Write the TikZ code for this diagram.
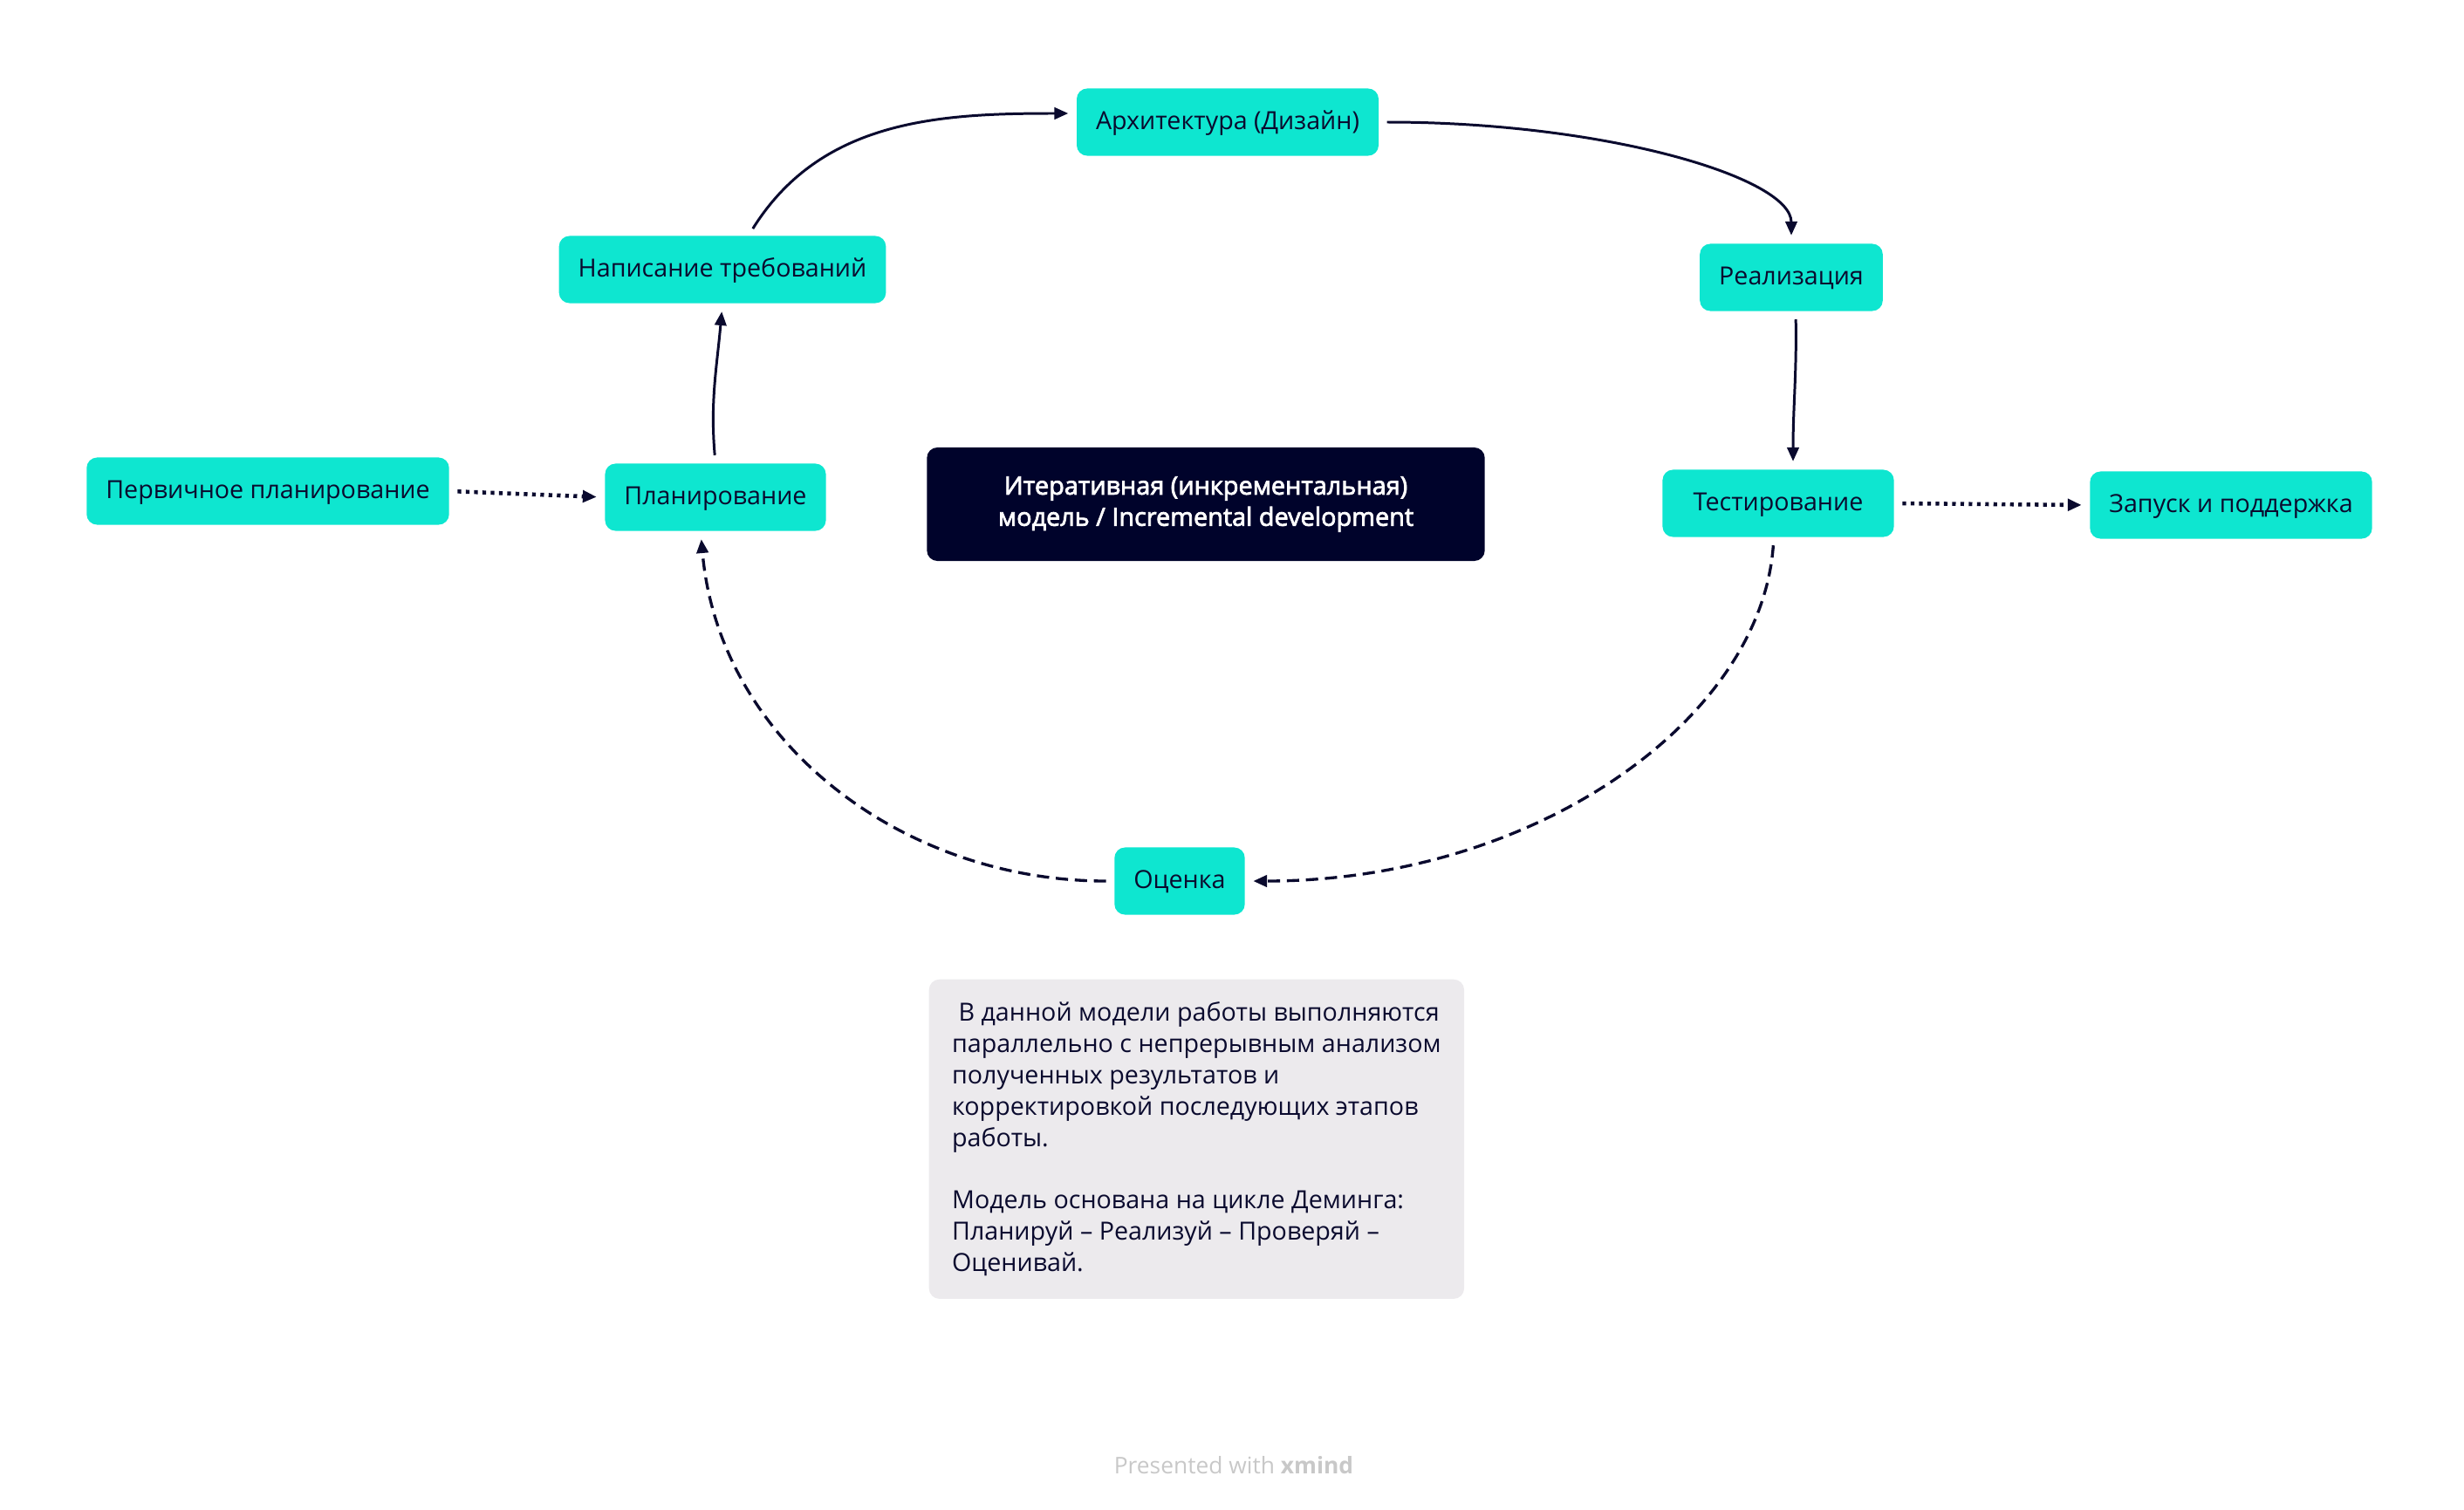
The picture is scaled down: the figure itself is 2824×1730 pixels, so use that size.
\documentclass[tikz,border=0pt]{standalone}
\usepackage{fontspec}
\setmainfont{Open Sans}
\newfontfamily\semibold{Open Sans}[FakeBold=2.6]
\usetikzlibrary{arrows.meta}
\definecolor{aqua}{HTML}{0EE6D0}
\definecolor{ink}{HTML}{0A0A2E}
\definecolor{navy}{HTML}{00032B}
\definecolor{memofill}{HTML}{ECEAED}
\definecolor{credit}{HTML}{C8C8C8}
\begin{document}
\begin{tikzpicture}[x=0.01cm,y=0.01cm,
  phase/.style={fill=aqua,rounded corners=0.12cm,minimum height=0.77cm,inner xsep=0.22cm,text height=6pt,text depth=1pt,text=ink,font=\fontsize{8.15}{10.2}\selectfont},
  core/.style={fill=navy,rounded corners=0.12cm,minimum width=6.39cm,minimum height=1.3cm,align=center,text=white,font=\fontsize{8.2}{10.2}\semibold},
  memo/.style={fill=memofill,rounded corners=0.12cm,anchor=north west,minimum width=6.13cm,minimum height=3.66cm,inner xsep=0.23cm,align=left,text=ink,font=\fontsize{8.15}{10.2}\selectfont},
  flow/.style={draw=ink,line width=0.85pt,-{Triangle[length=4.5pt,width=3.8pt]},shorten <=0.09cm,shorten >=0.09cm},
  loopback/.style={flow,line width=0.95pt,dash pattern=on 4pt off 2.2pt},
  aside/.style={flow,line width=1.3pt,dash pattern=on 1.2pt off 1.5pt}]

  \useasboundingbox (0,0) rectangle (2824,-1730);

  % etapy cikla
  \node[phase] (arch)   at (1407,-140)  {Архитектура (Дизайн)};
  \node[phase] (req)    at (828,-309)   {Написание требований};
  \node[phase] (impl)   at (2053,-318)  {Реализация};
  \node[phase] (plan0)  at (307,-563)   {Первичное планирование};
  \node[phase] (plan)   at (820,-570)   {Планирование};
  \node[phase,minimum width=2.65cm] (test) at (2038,-577) {Тестирование};
  \node[phase] (launch) at (2557,-579)  {Запуск и поддержка};
  \node[phase] (eval)   at (1352,-1010) {Оценка};

  \node[core] (title) at (1382,-578) {Итеративная (инкрементальная)\\модель / Incremental development};

  \node[memo] (note) at (1064,-1122) {\ В данной модели работы выполняются\\
    параллельно с непрерывным анализом\\
    полученных результатов и\\
    корректировкой последующих этапов\\
    работы.\\[10.2pt]
    Модель основана на цикле Деминга:\\
    Планируй – Реализуй – Проверяй –\\
    Оценивай.};

  \node[text=credit,font=\fontsize{7.5}{9}\selectfont] (mark) at (1414,-1680) {Presented with \textbf{xmind}};

  % strelki
  \draw[flow] (plan.north) to[out=95,in=-95] (req.south);
  \draw[flow] ([xshift=0.3cm]req.north) to[out=58,in=180] ([yshift=0.1cm]arch.west);
  \draw[flow] (arch.east) .. controls +(2.6cm,0) and +(0,0.75cm) .. (impl.north);
  \draw[flow] ([xshift=0.05cm]impl.south) to[out=-89,in=90] ([xshift=0.17cm]test.north);
  \draw[loopback] ([xshift=-0.05cm]test.south) .. controls +(-0.15cm,-2.1cm) and +(3.3cm,0) .. (eval.east);
  \draw[loopback] (eval.west) to[out=180,in=-85] ([xshift=-0.17cm]plan.south);
  \draw[aside] (plan0.east) -- (plan.west);
  \draw[aside] (test.east) -- (launch.west);
\end{tikzpicture}
\end{document}
